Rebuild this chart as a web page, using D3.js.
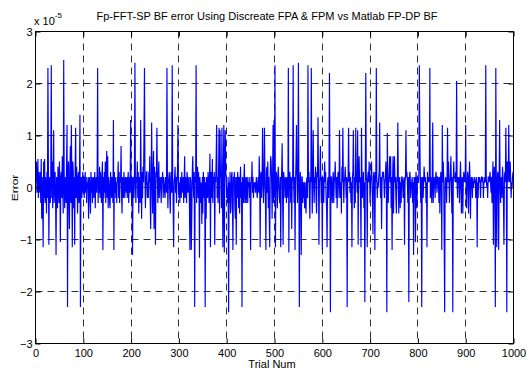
<!DOCTYPE html>
<html>
<head>
<meta charset="utf-8">
<title>Fp-FFT-SP BF error</title>
<script src="https://cdn.jsdelivr.net/npm/d3@7"></script>
<style>
  body { margin: 0; background: #fff; }
  svg text { font-family: "Liberation Sans Narrow", "Arial Narrow", "Liberation Sans", Arial, sans-serif; fill: #000; }
</style>
</head>
<body>
<script>
// error values, in units of 1e-5, one per trial (blocks of 100)
var err000 = [
  0.1, 0.5, -0.1, 0.0, 0.55, -0.2, 0.3, 0.1, -0.1, 0.3,
  -0.3, 0.55, -0.6, 0.2, -0.1, -1.15, 0.5, -0.2, 0.55, -0.3,
  0.2, 0.1, -0.5, 0.3, -0.2, 2.3, 0.4, -1.1, 0.1, 0.2,
  -0.3, 0.3, 2.35, -0.2, 0.5, -0.4, 0.2, 1.1, -0.3, 0.1,
  0.3, -0.2, -1.3, 0.2, 0.1, -0.4, 0.4, 0.2, -0.3, 0.5,
  0.1, -1.05, 0.2, 0.3, -0.2, 0.6, 0.1, -0.5, 2.45, 0.3,
  -0.4, 0.1, 0.2, -0.3, 0.5, 1.2, -2.3, 0.3, 0.5, -0.2,
  -0.8, 0.4, 0.8, -0.3, 1.2, 0.2, -1.15, 0.5, 0.3, -0.4,
  0.2, -1.1, 0.4, 1.15, -0.2, 0.4, 0.1, -0.5, 0.2, 0.3,
  -0.3, 0.2, 1.4, -2.3, 0.1, 0.2, -0.2, 0.1, 0.3, -0.1
];
var err100 = [
  0.2, -0.2, 0.1, 0.3, -0.1, 0.2, -0.3, 0.1, 0.0, 0.2,
  -0.6, 0.1, 0.2, -0.2, -0.5, 0.3, -0.1, 0.2, -0.3, 0.1,
  0.2, -0.2, 0.0, 0.3, -0.4, 0.1, 0.2, -0.1, 0.3, 2.3,
  -0.3, 0.2, -0.1, 0.4, -0.2, 0.3, 0.1, -0.3, 0.2, 0.5,
  -1.2, 0.2, -0.2, 0.3, -0.1, 0.5, -0.3, 0.2, 0.7, -0.2,
  0.6, -0.4, 0.2, 0.1, -0.3, -0.4, 0.3, 0.1, -0.2, 0.2,
  0.0, -0.3, 1.3, -1.2, 0.3, -0.1, 0.2, -0.2, 0.1, -0.3,
  0.2, 0.1, 0.5, -0.2, 0.3, -0.3, 0.2, 0.1, 0.8, -0.1,
  -0.5, 0.2, 0.1, -0.2, 0.3, 0.0, -0.2, 0.2, 0.1, -0.1,
  0.2, -0.2, 0.1, 0.3, -0.3, 0.1, 0.2, -0.1, 1.3, 0.2
];
var err200 = [
  -0.3, 0.2, -1.3, 0.1, 0.2, -0.2, 0.3, 2.4, 0.1, -0.3,
  0.2, 0.1, 0.5, -0.2, 0.3, -0.5, 0.2, 0.1, -0.3, 1.3,
  0.2, -0.6, 0.3, -0.2, 0.4, 0.1, 1.05, 2.3, 0.2, -0.4,
  0.1, 0.3, 0.3, -0.2, 0.1, -0.2, 0.3, 0.1, 0.6, -0.3,
  -0.8, 0.2, 1.25, 0.1, -0.5, 0.3, 0.7, -0.8, 0.4, -0.2,
  -1.1, 0.3, 0.2, 1.15, 0.1, -0.3, 0.2, 0.5, -0.2, 0.1,
  0.2, 0.0, -0.3, 0.2, 0.1, 0.3, -0.2, 0.2, 0.1, -0.1,
  -0.2, 0.2, 0.1, -0.1, 2.3, 0.2, -0.4, 0.1, 0.2, 0.3,
  -0.2, -0.5, 0.2, 0.3, -0.1, 2.35, 0.2, -0.3, -1.15, 0.1,
  0.2, 0.4, -0.1, 0.2, -0.3, 0.1, 0.3, 1.2, 0.1, -0.2
];
var err300 = [
  0.1, -0.3, 0.2, 0.1, -0.2, 0.3, 0.0, -0.1, 0.2, -0.3,
  0.1, 0.6, -0.2, 0.2, 0.1, -0.3, 0.3, 0.2, -0.1, 0.1,
  0.2, -0.3, -1.2, 0.2, 0.1, -1.2, -0.5, 0.3, 0.6, 0.1,
  -0.2, 0.3, -2.3, 0.2, 0.1, 2.35, -0.3, 0.2, 0.4, -0.2,
  0.3, 0.1, -1.35, 0.2, -0.3, 0.1, 0.0, -0.7, 0.2, -0.5,
  0.3, 0.1, -0.2, 0.2, -2.3, 0.1, -0.6, 0.2, 0.1, -0.2,
  0.3, 0.1, -0.3, 0.2, 0.65, -1.15, 0.3, 0.2, -0.2, 0.55,
  -0.3, 0.2, 0.1, 0.3, -1.1, 0.2, 0.1, 0.6, 1.2, -0.2,
  0.2, -0.3, 0.3, 1.15, -0.5, 1.1, 0.2, 0.3, -0.4, 1.15,
  0.1, -1.15, 0.3, 1.2, -1.25, 0.2, 1.1, 0.3, 0.2, -0.2
];
var err400 = [
  0.0, -0.3, 0.2, -2.4, 0.1, -0.3, 0.3, -0.5, -0.4, 0.2,
  0.3, -0.2, -1.2, 0.2, 0.1, 0.3, -0.3, -0.6, 0.2, -1.1,
  0.2, -0.2, 0.3, 0.1, -0.4, 0.2, -0.5, 0.1, 0.4, -0.2,
  0.1, -2.3, 0.2, 0.1, -0.3, 0.2, 0.45, -0.3, -0.1, 0.2,
  -0.3, 0.1, 0.2, -0.3, 0.1, 0.0, 0.2, -0.2, 0.1, -1.2,
  0.2, 0.1, 0.5, -0.1, 0.2, -0.2, 0.1, 0.0, 0.1, -0.1,
  0.0, 0.2, -0.1, -0.2, 0.1, 0.2, -0.1, 0.6, 0.2, -1.15,
  0.2, 0.3, -0.2, 0.1, 1.15, 0.2, -0.3, 0.1, 1.15, 0.2,
  -0.2, -1.2, 0.3, 0.4, -0.1, 0.5, -0.4, 0.2, -0.6, -1.15,
  0.2, 0.6, 0.5, 0.1, -0.6, 0.2, 1.2, -0.3, 1.3, -0.2
];
var err500 = [
  2.35, -1.15, 0.2, 0.3, 0.1, -0.4, 0.2, 0.4, 0.1, -0.2,
  -0.3, 0.2, -1.15, 0.1, 0.3, 0.85, -0.2, -1.1, 0.3, 0.2,
  0.1, -0.2, 0.2, 0.1, -0.3, 0.2, 0.1, -0.2, 2.3, -1.25,
  0.2, 0.3, 0.1, -0.3, 0.2, -0.8, 0.1, 0.2, 2.35, 0.1,
  -0.3, 0.2, -1.2, 0.1, 0.5, 1.2, 0.2, -0.3, 0.1, 2.4,
  0.2, -2.3, 0.1, 0.3, -0.2, -1.3, 0.2, 0.2, -0.3, 0.1,
  -0.2, 0.1, -0.4, 0.1, -0.3, -0.5, 0.1, 0.2, -0.2, 2.35,
  0.1, 0.3, -0.2, -0.6, 0.2, 0.1, 2.3, 0.2, -0.5, 0.3,
  1.1, 0.1, -0.3, 0.2, 0.1, 0.4, -0.2, -0.5, 0.3, 0.2,
  1.35, 0.2, -1.1, 0.1, 0.2, 0.8, 0.1, -0.3, 0.2, -1.2
];
var err600 = [
  0.2, 0.1, -0.3, 0.2, 0.5, 0.1, 0.3, -0.2, -0.4, -1.15,
  0.1, 0.2, -0.2, 0.3, 2.2, 0.1, -2.4, 0.2, 0.2, -0.1,
  -0.3, 0.2, 0.3, -0.3, 0.1, 0.2, 0.5, 0.1, -0.2, 0.2,
  -0.4, 0.1, 0.3, 0.2, -0.2, 1.1, 0.2, -0.2, 0.1, -0.5,
  0.4, 0.1, 1.15, 0.2, -0.3, 0.1, 0.2, 0.4, 0.1, -0.2,
  0.2, -2.3, 0.1, 0.2, 1.15, 0.1, 0.3, -0.1, 0.2, -0.3,
  0.1, -1.15, 0.2, 0.3, 1.1, 0.1, -0.4, 0.2, -0.3, 1.15,
  0.1, 0.2, -0.1, 1.1, -1.1, 0.2, 0.6, 0.1, 0.2, -0.2,
  -1.15, 1.15, 0.2, -0.2, 0.1, 0.3, -0.4, 0.1, -2.2, 0.3,
  2.2, 0.2, 0.1, -1.15, 0.2, 0.3, 0.1, 0.5, 0.2, -0.3
];
var err700 = [
  0.1, 0.2, 0.5, 0.1, -0.3, -0.9, 0.2, 0.3, 0.1, -1.2,
  0.3, 0.1, 2.3, 0.2, -0.2, 0.1, 0.0, 0.2, 0.3, 1.25,
  0.1, -0.2, 0.2, -0.8, 0.1, 0.3, 0.2, 0.3, 0.1, -0.2,
  0.1, 0.2, 0.5, 0.1, -2.4, 1.05, 0.2, -0.3, 0.1, 0.3,
  0.6, 0.1, 0.6, -0.4, 0.2, -1.2, 0.1, 0.6, -0.5, 0.2,
  0.6, 0.1, 0.2, -0.2, -0.5, 0.2, 0.1, 1.25, 0.2, -0.5,
  0.1, 0.2, -0.4, 0.1, -0.3, 0.2, 0.2, 0.1, -0.2, 0.1,
  0.2, -1.1, 0.1, 0.2, 1.1, 0.2, 0.3, 0.1, -0.3, 0.2,
  -2.2, 0.1, 0.3, 0.2, -0.2, 0.0, 0.1, 0.2, -0.3, 0.1,
  -1.3, 0.2, 0.1, 0.2, -1.05, 0.3, 0.1, -0.4, 0.2, 0.1
];
var err800 = [
  0.1, 0.2, 2.35, 1.0, 0.1, -0.3, 0.2, -2.3, 0.1, 0.2,
  -0.2, 0.1, 0.4, 0.2, 0.1, 0.2, -0.3, 0.1, -1.15, 0.3,
  0.1, 0.2, 0.1, 0.2, 2.3, -0.2, 0.2, 0.1, -0.3, 0.2,
  1.25, -0.3, 0.1, 0.2, 0.1, -0.2, 0.2, 0.3, 0.1, -0.1,
  0.2, 0.2, 0.1, -0.3, 0.2, -0.5, 0.1, 0.3, 0.2, -1.2,
  1.2, 0.1, 0.5, 0.2, -1.0, -2.4, 0.1, 0.2, 0.1, -0.3,
  0.2, 1.15, 0.1, 0.5, 0.2, -0.3, 0.1, 0.2, 0.6, 0.1,
  -0.5, 0.2, -2.4, 0.1, 0.5, 0.2, 0.2, 0.1, 0.3, 0.1,
  2.05, 0.1, -0.2, 0.2, 0.1, 0.2, -0.3, 0.1, 0.5, 0.2,
  -0.5, 0.1, 0.2, -0.5, 0.1, 0.3, 0.2, 0.1, 0.2, 1.2
];
var err900 = [
  -0.2, -0.4, 0.1, 0.3, 0.2, -0.5, 0.1, 0.5, 0.2, -0.6,
  0.1, 0.2, 0.1, -0.2, 0.2, 0.0, 0.1, 0.1, 0.2, 0.1,
  -0.2, 0.1, 0.2, -1.15, 0.1, -0.2, 0.2, 0.1, 0.2, 0.1,
  -0.2, 0.1, 0.2, 0.2, 0.1, 0.2, -0.2, 0.1, 0.1, 0.2,
  0.1, 2.35, 0.2, 0.0, 0.1, -0.2, 0.2, 0.2, 0.1, 0.2,
  0.3, 0.1, -0.1, 0.2, -0.3, 0.1, 0.5, -1.1, 0.2, 0.4,
  0.1, -2.3, 2.3, 0.2, -1.15, 0.1, 0.3, 0.2, -1.2, 0.2,
  1.3, 0.1, -0.3, 0.2, 0.1, -0.2, 0.4, 0.2, -0.3, -1.1,
  0.2, 0.3, 0.1, 1.15, 0.2, -2.4, 0.5, 0.2, 0.1, 1.2,
  0.3, 0.1, 0.5, 0.2, -0.2, 0.1, 0.0, 0.2, 0.3, 0.2
];

var xTicks = [0, 100, 200, 300, 400, 500, 600, 700, 800, 900, 1000];
var yTicks = [-3, -2, -1, 0, 1, 2, 3];
var titleText = "Fp-FFT-SP BF error Using Discreate FPA & FPM vs Matlab FP-DP BF";
var xLabel = "Trial Num";
var yLabel = "Error";

var errs = err000.concat(err100, err200, err300, err400, err500, err600, err700, err800, err900);

var W = 527, H = 371;
var margin = {top: 31, right: 14, bottom: 28, left: 35};
var iw = W - margin.left - margin.right,
    ih = H - margin.top - margin.bottom;

var svg = d3.select("body").append("svg")
  .attr("width", W)
  .attr("height", H);

var g = svg.append("g")
  .attr("transform", "translate(" + (margin.left + 0.5) + "," + (margin.top + 0.5) + ")");

var x = d3.scaleLinear().domain([0, 1000]).range([0, iw]);
var y = d3.scaleLinear().domain([-3, 3]).range([ih, 0]);

// dashed grid (not on the box edges)
g.append("g").selectAll("line")
  .data(xTicks.slice(1, -1))
  .enter().append("line")
    .attr("x1", function(d) { return Math.round(x(d)); })
    .attr("x2", function(d) { return Math.round(x(d)); })
    .attr("y1", 0).attr("y2", ih)
    .attr("stroke", "#000").attr("stroke-width", 1)
    .attr("stroke-dasharray", "7,5").attr("opacity", 0.8);

g.append("g").selectAll("line")
  .data(yTicks.slice(1, -1))
  .enter().append("line")
    .attr("y1", function(d) { return Math.round(y(d)); })
    .attr("y2", function(d) { return Math.round(y(d)); })
    .attr("x1", 0).attr("x2", iw)
    .attr("stroke", "#000").attr("stroke-width", 1)
    .attr("stroke-dasharray", "7,5").attr("opacity", 0.8);

// the data line
var line = d3.line()
  .x(function(d, i) { return x(i + 1); })
  .y(function(d) { return y(d); });

g.append("path")
  .datum(errs)
  .attr("fill", "none")
  .attr("stroke", "#0000ff")
  .attr("stroke-width", 1.15)
  .attr("stroke-linejoin", "miter")
  .attr("d", line);

// axes, matlab style ticks pointing inward
var xAxis = d3.axisBottom(x).tickValues(xTicks).tickSize(-5).tickPadding(6).tickFormat(d3.format("d"));
var yAxis = d3.axisLeft(y).tickValues(yTicks).tickSize(-5).tickPadding(3).tickFormat(d3.format("d"));

var gx = g.append("g").attr("transform", "translate(0," + ih + ")").call(xAxis);
var gy = g.append("g").call(yAxis);
g.append("g").call(d3.axisTop(x).tickValues(xTicks).tickSize(-5).tickFormat(""));
g.append("g").attr("transform", "translate(" + iw + ",0)")
  .call(d3.axisRight(y).tickValues(yTicks).tickSize(-5).tickFormat(""));

g.selectAll(".domain").remove();
g.selectAll(".tick line").attr("stroke", "#000");
g.selectAll(".tick text").attr("font-size", 11)
  .attr("font-family", "'Liberation Sans Narrow', 'Arial Narrow', sans-serif");

// box
g.append("rect")
  .attr("x", 0).attr("y", 0)
  .attr("width", iw).attr("height", ih)
  .attr("fill", "none").attr("stroke", "#000").attr("stroke-width", 1);

// title and labels
svg.append("text")
  .attr("x", 267).attr("y", 20)
  .attr("text-anchor", "middle")
  .attr("font-size", 11)
  .text(titleText);

svg.append("text")
  .attr("x", 272).attr("y", 368)
  .attr("text-anchor", "middle")
  .attr("font-size", 11)
  .text(xLabel);

svg.append("text")
  .attr("transform", "translate(18,188) scale(0.82,1) rotate(-90)")
  .attr("text-anchor", "middle")
  .attr("font-family", "'Liberation Sans', Arial, sans-serif")
  .attr("font-size", 12)
  .text(yLabel);

// exponent label
var ex = svg.append("text").attr("x", 34).attr("y", 25).attr("font-size", 11);
ex.append("tspan").text("x 10");
ex.append("tspan").attr("dy", -7).attr("font-size", 8).text("-5");
</script>
</body>
</html>
